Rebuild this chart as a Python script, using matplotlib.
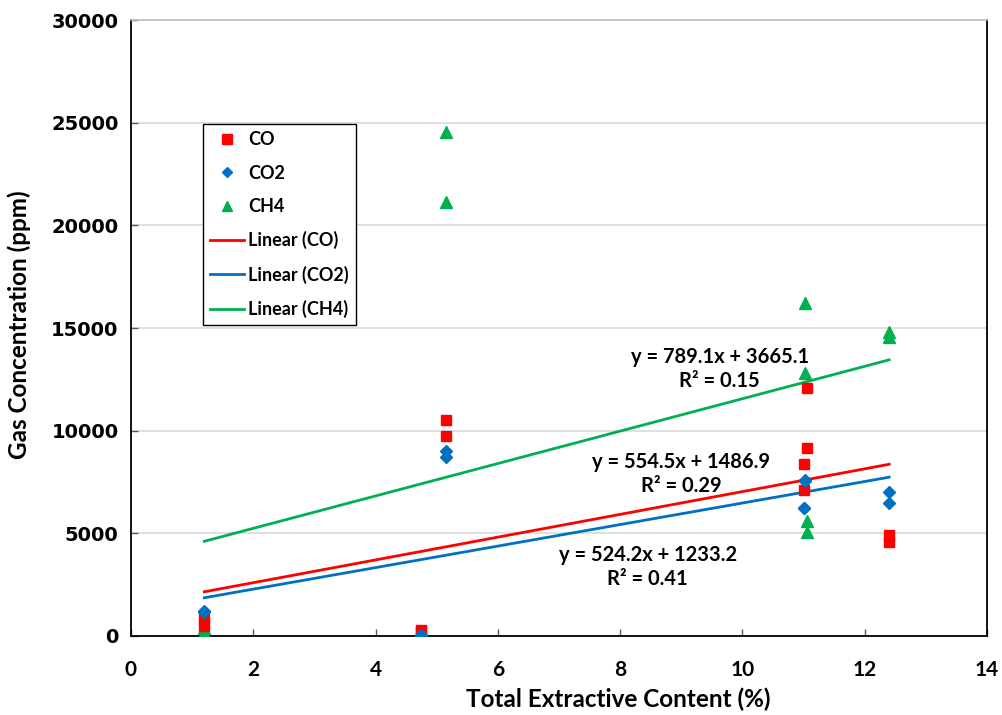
import matplotlib
matplotlib.use("Agg")
from matplotlib import pyplot as plt
from matplotlib.lines import Line2D
import numpy as np

narrow = ['Lato', 'DejaVu Sans']
wide = ['DejaVu Sans']

# data
x_co = [1.2, 1.2, 4.75, 4.75, 5.15, 5.15, 11.05, 11.05, 11.0, 11.0, 12.4, 12.4]
y_co = [830, 490, 300, 250, 10520, 9740, 12080, 9170, 8360, 7110, 4920, 4600]

x_co2 = [1.2, 1.2, 4.75, 4.75, 5.15, 5.15, 11.03, 11.03, 11.0, 11.0, 12.4, 12.4]
y_co2 = [1220, 1150, 50, 20, 9030, 8720, 7600, 7550, 6240, 6240, 7000, 6490]

x_ch4 = [1.2, 1.2, 4.75, 4.75, 5.15, 5.15, 11.02, 11.02, 11.06, 11.06, 12.4, 12.4]
y_ch4 = [390, 150, 150, 120, 24550, 21140, 16240, 12830, 5600, 5050, 14820, 14580]

# trendline coefficients (slope, intercept, R2) from the chart labels
fit_co = (554.5, 1486.9, 0.29)
fit_co2 = (524.2, 1233.2, 0.41)
fit_ch4 = (789.1, 3665.1, 0.15)

red = "#FF0000"
blue = "#0070C0"
green = "#00B050"

fig = plt.figure(figsize=(10.02, 7.15), dpi=100)
ax = fig.add_axes([0.1307, 0.1105, 0.8543, 0.8615])

ax.set_xlim(0, 14)
ax.set_ylim(0, 30000)
ax.set_xticks(np.arange(0, 15, 2))
ax.set_yticks(np.arange(0, 30001, 5000))
ax.grid(axis="y", color="#D9D9D9", linewidth=1.2)
ax.set_axisbelow(True)

for s in ["left", "bottom", "right"]:
    ax.spines[s].set_color("black")
    ax.spines[s].set_linewidth(1.3)
ax.spines["top"].set_color("#BFBFBF")
ax.spines["top"].set_linewidth(1.2)

ax.tick_params(axis="both", direction="in", length=5, width=1, colors="#595959",
               labelcolor="black")
ax.tick_params(axis="y", right=False, pad=9)
ax.tick_params(axis="x", pad=17)
for lab in ax.get_yticklabels():
    lab.set_family(wide)
    lab.set_fontweight("bold")
    lab.set_fontsize(14)
for lab in ax.get_xticklabels():
    lab.set_family(narrow)
    lab.set_fontweight("bold")
    lab.set_fontsize(15)

ax.set_xlabel("Total Extractive Content (%)", family=narrow, fontweight="bold",
              fontsize=17.5)
ax.xaxis.set_label_coords(0.569, -0.083)
ax.set_ylabel("Gas Concentration (ppm)", family=narrow, fontweight="bold",
              fontsize=17.5)
ax.yaxis.set_label_coords(-0.117, 0.505)

ms = 7.5
ax.plot(x_ch4, y_ch4, linestyle="none", marker="^", color=green, markersize=ms + 0.5,
        zorder=3)
ax.plot(x_co, y_co, linestyle="none", marker="s", color=red, markersize=ms - 0.5,
        zorder=3)
ax.plot(x_co2, y_co2, linestyle="none", marker="D", color=blue, markersize=ms - 1,
        zorder=3)

for xs, fit, c in [(x_co, fit_co, red), (x_co2, fit_co2, blue), (x_ch4, fit_ch4, green)]:
    xx = np.array([min(xs), max(xs)])
    ax.plot(xx, fit[0] * xx + fit[1], color=c, linewidth=2, zorder=2)


def eq_label(x, y, fit):
    txt = f"y = {fit[0]:.1f}x + {fit[1]:.1f}\nR\u00b2 = {fit[2]:.2f}"
    ax.text(x, y, txt, ha="center", va="center", family=narrow, fontweight="bold",
            fontsize=14.5, linespacing=1.25)


eq_label(9.63, 13000, fit_ch4)
eq_label(9.0, 7900, fit_co)
eq_label(8.45, 3380, fit_co2)

handles = [
    Line2D([], [], linestyle="none", marker="s", color=red, markersize=ms - 1),
    Line2D([], [], linestyle="none", marker="D", color=blue, markersize=ms - 2),
    Line2D([], [], linestyle="none", marker="^", color=green, markersize=ms),
    Line2D([], [], color=red, linewidth=2),
    Line2D([], [], color=blue, linewidth=2),
    Line2D([], [], color=green, linewidth=2),
]
labels = ["CO", "CO2", "CH4", "Linear (CO)", "Linear (CO2)", "Linear (CH4)"]
leg = ax.legend(handles, labels, loc="upper left", bbox_to_anchor=(0.084, 0.831),
                frameon=True, fancybox=False, edgecolor="black", framealpha=1,
                handlelength=1.9, handletextpad=0.2, labelspacing=0.9,
                borderpad=0.4, borderaxespad=0,
                prop={"family": narrow, "weight": "bold", "size": 13})
leg.get_frame().set_linewidth(1.0)

fig.savefig("out.png", dpi=100)
